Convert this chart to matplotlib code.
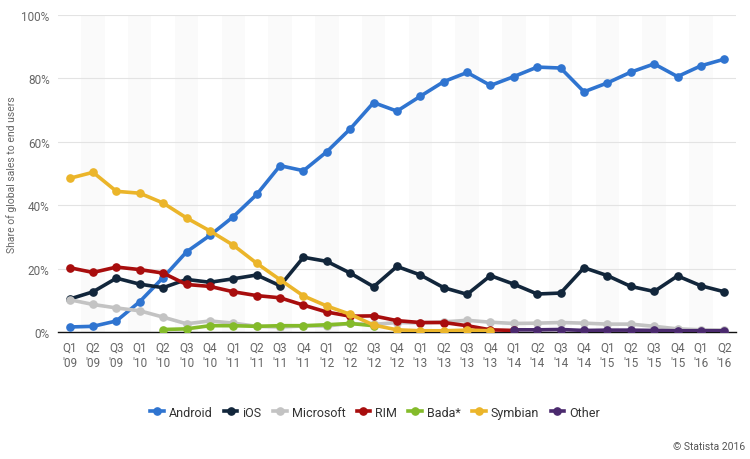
import numpy as np
import matplotlib
matplotlib.use("Agg")
import matplotlib.pyplot as plt

nan = np.nan

quarters = ["Q1\n'09", "Q2\n'09", "Q3\n'09", "Q1\n'10", "Q2\n'10", "Q3\n'10", "Q4\n'10",
            "Q1\n'11", "Q2\n'11", "Q3\n'11", "Q4\n'11", "Q1\n'12", "Q2\n'12", "Q3\n'12",
            "Q4\n'12", "Q1\n'13", "Q2\n'13", "Q3\n'13", "Q4\n'13", "Q1\n'14", "Q2\n'14",
            "Q3\n'14", "Q4\n'14", "Q1\n'15", "Q2\n'15", "Q3\n'15", "Q4\n'15", "Q1\n'16",
            "Q2\n'16"]

android = [1.6, 1.8, 3.5, 9.6, 17.2, 25.3, 30.5, 36.4, 43.4, 52.5, 50.9, 56.9, 64.1, 72.4,
           69.7, 74.4, 79.0, 81.9, 77.8, 80.6, 83.6, 83.3, 75.8, 78.6, 82.0, 84.6, 80.6,
           84.0, 86.1]
ios = [10.4, 12.7, 17.0, 15.1, 14.0, 16.6, 15.7, 16.8, 18.0, 14.6, 23.6, 22.3, 18.6, 14.3,
       20.7, 18.0, 14.0, 11.9, 17.8, 15.1, 12.0, 12.3, 20.3, 17.8, 14.4, 12.8, 17.7, 14.6,
       12.7]
microsoft = [10.2, 8.7, 7.6, 6.7, 4.7, 2.6, 3.5, 2.8, 1.8, 1.6, 1.9, 1.9, 2.7, 2.4, 3.0,
             2.9, 3.2, 3.7, 3.1, 2.7, 2.8, 3.0, 2.8, 2.5, 2.5, 1.8, 1.0, 0.7, 0.6]
rim = [20.3, 18.8, 20.5, 19.7, 18.6, 15.0, 14.4, 12.7, 11.5, 10.8, 8.5, 6.3, 5.0, 5.1,
       3.6, 3.0, 3.0, 2.0, 0.7, 0.5] + [nan] * 9
bada = [nan] * 4 + [0.8, 1.0, 2.0, 2.0, 1.8, 2.0, 2.0, 2.3, 2.7, 2.0] + [nan] * 15
symbian = [48.5, 50.4, 44.4, 43.8, 40.7, 36.0, 31.9, 27.4, 21.7, 16.5, 11.4, 8.2, 5.6,
           2.2, 0.7, 0.4, 0.4, 0.6, 0.4] + [nan] * 10
other = [nan] * 19 + [0.7, 0.7, 0.8, 0.5, 0.6, 0.6, 0.5, 0.4, 0.4, 0.4]

series = [("Android", android, "#2f74d0"),
          ("iOS", ios, "#12263b"),
          ("Microsoft", microsoft, "#c3c3c3"),
          ("RIM", rim, "#a80d0d"),
          ("Bada*", bada, "#84bb2a"),
          ("Symbian", symbian, "#ebb52a"),
          ("Other", other, "#4b2a6e")]

plt.rcParams['font.family'] = ['Roboto', 'DejaVu Sans']

fig = plt.figure(figsize=(7.5, 4.6), dpi=100)
ax = fig.add_axes([0.0773, 0.276, 0.904, 0.689])

x = np.arange(len(quarters))

# light alternating column bands
for i in x[1::2]:
    ax.axvspan(i - 0.5, i + 0.5, color="#fafafa", lw=0, zorder=0)

for name, vals, col in series:
    ax.plot(x, vals, "-o", color=col, lw=2.6, ms=5.2, label=name, zorder=3,
            solid_joinstyle="round")

ax.set_xlim(-0.5, len(quarters) - 0.5)
ax.set_ylim(0, 100)
ax.set_yticks(range(0, 101, 20))
ax.set_yticklabels([f"{v}%" for v in range(0, 101, 20)])
ax.set_xticks(x)
ax.set_xticklabels(quarters, linespacing=1.25)
ax.yaxis.grid(True, color="#e3e3e3", lw=0.8, zorder=1)
ax.set_axisbelow(True)

for s in ["top", "right", "left"]:
    ax.spines[s].set_visible(False)
ax.spines["bottom"].set_color("#111111")
ax.spines["bottom"].set_linewidth(1.0)
ax.spines["bottom"].set_zorder(2)
ax.tick_params(axis="both", length=0, colors="#666666", labelsize=8.5)
ax.tick_params(axis="x", pad=6)
ax.tick_params(axis="y", pad=6)

fig.text(0.015, 0.62, "Share of global sales to end users", rotation=90,
         ha="center", va="center", fontsize=7.5, color="#666666")

fig.legend(loc="center", bbox_to_anchor=(0.5, 0.102), ncol=7, frameon=False,
           fontsize=9, handlelength=1.1, handletextpad=0.4, columnspacing=0.9,
           labelcolor="#333333")

fig.text(0.993, 0.028, "\u00a9 Statista 2016", ha="right", va="center",
         fontsize=7.5, color="#555555")

plt.savefig("out.png", dpi=100)
